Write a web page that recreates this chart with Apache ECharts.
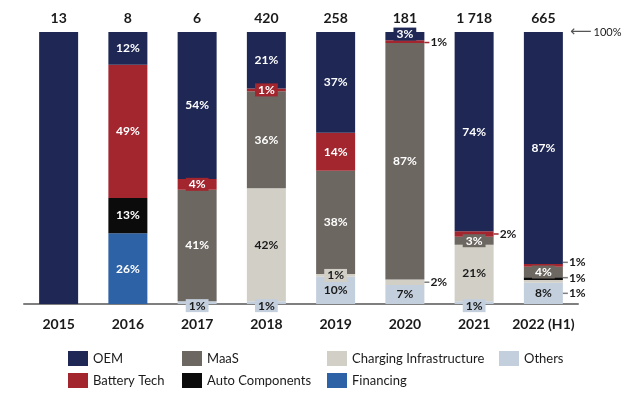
<!DOCTYPE html>
<html><head><meta charset="utf-8">
<script src="https://cdn.jsdelivr.net/npm/echarts@6/dist/echarts.min.js"></script>
<style>html,body{margin:0;padding:0;background:#fff}#c{width:627px;height:393px}</style>
</head><body><div id="c"></div>
<script>
const categories = ['2015','2016','2017','2018','2019','2020','2021','2022 (H1)'];
const totals = ['13','8','6','420','258','181','1 718','665'];
const oem       = [100,12,54,21,37, 3,74,87];
const battery   = [  0,49, 4, 1,14, 1, 2, 1];
const maas      = [  0, 0,41,36,38,87, 3, 4];
const autoComp  = [  0,13, 0, 0, 0, 0, 0, 1];
const charging  = [  0, 0, 0,42, 1, 2,21, 1];
const financing = [  0,26, 0, 0, 0, 0, 0, 0];
const others    = [  0, 0, 1, 1,10, 7, 1, 8];

const FONT = 'Lato';
// stacking order bottom -> top
const seriesDefs = [
  {name:'Others', data:others, color:'#c4cfdd', text:'#1a1a1a'},
  {name:'Financing', data:financing, color:'#2e62a6', text:'#ffffff'},
  {name:'Charging Infrastructure', data:charging, color:'#d2cfc7', text:'#1a1a1a'},
  {name:'Auto Components', data:autoComp, color:'#0b0b0b', text:'#ffffff'},
  {name:'MaaS', data:maas, color:'#6d6761', text:'#ffffff'},
  {name:'Battery Tech', data:battery, color:'#a3262f', text:'#ffffff'},
  {name:'OEM', data:oem, color:'#1f2755', text:'#ffffff'}
];

// label styling for small segments
const special = {
  '2017|Battery Tech': {type:'box'},
  '2017|Others': {type:'box', offset:[0,3]},
  '2018|Battery Tech': {type:'box'},
  '2018|Others': {type:'box', offset:[0,3]},
  '2019|Charging Infrastructure': {type:'box'},
  '2020|OEM': {type:'box', offset:[0,-2]},
  '2020|Battery Tech': {type:'right', line:'#a3262f', offset:[0,1]},
  '2020|Charging Infrastructure': {type:'right', line:'#7f7f7f', offset:[0,0]},
  '2021|Battery Tech': {type:'right', line:'#a3262f', offset:[0,0]},
  '2021|MaaS': {type:'box'},
  '2021|Others': {type:'box', offset:[0,3]},
  '2022 (H1)|Battery Tech': {type:'right', line:'#7f7f7f', offset:[0,-3]},
  '2022 (H1)|Auto Components': {type:'right', line:'#7f7f7f', offset:[0,-1]},
  '2022 (H1)|MaaS': {type:'box'},
  '2022 (H1)|Charging Infrastructure': {type:'right', line:'#7f7f7f', offset:[0,12]}
};

const sums = categories.map((c,i)=>seriesDefs.reduce((s,d)=>s+d.data[i],0));

function labelFor(def, i){
  const v = def.data[i];
  if (!v || v === 100) return {show:false};
  const base = {show:true, formatter: v + '%', color:def.text, fontSize:12, fontWeight:'bold', fontFamily:FONT};
  const sp = special[categories[i] + '|' + def.name];
  if (!sp) return Object.assign(base, {position:'inside'});
  if (sp.type === 'box') {
    return Object.assign(base, {position:'inside', backgroundColor:def.color, padding:[1,3,0,3], offset: sp.offset || [0,0]});
  }
  return {show:true, position:'right', distance:0, offset: sp.offset,
    formatter: '{d| }{t|' + v + '%}',
    rich: {
      d:{width:5, height:1.5, backgroundColor: sp.line, fontSize:1},
      t:{color:'#1a1a1a', fontSize:12, fontWeight:'bold', fontFamily:FONT, padding:[0,0,0,1]}
    }
  };
}

const series = seriesDefs.map(def => ({
  name: def.name, type:'bar', stack:'total', barWidth:39,
  itemStyle:{color:def.color},
  emphasis:{disabled:true},
  data: def.data.map((v,i)=>({value: v*100/sums[i], label: labelFor(def,i)}))
}));

const legendCommon = {orient:'vertical', top:346, itemWidth:20, itemHeight:15, itemGap:7, icon:'rect',
  selectedMode:false, textStyle:{fontSize:13, color:'#1a1a1a', fontFamily:FONT}};

const chart = echarts.init(document.getElementById('c'));
chart.setOption({
  animation:false,
  grid:{left:24, right:49, top:32, bottom:89, outerBoundsMode:'none'},
  legend:[
    Object.assign({left:63, data:['OEM','Battery Tech']}, legendCommon),
    Object.assign({left:177, data:['MaaS','Auto Components']}, legendCommon),
    Object.assign({left:322, data:['Charging Infrastructure','Financing']}, legendCommon),
    Object.assign({left:494, data:['Others']}, legendCommon)
  ],
  xAxis:[
    {type:'category', data:categories, position:'bottom',
     axisLine:{lineStyle:{color:'#7f7f7f', width:2}}, axisTick:{show:false},
     axisLabel:{interval:0, fontSize:14, fontWeight:'bold', color:'#1a1a1a', fontFamily:FONT, margin:13}},
    {type:'category', data:totals, position:'top',
     axisLine:{show:false}, axisTick:{show:false},
     axisLabel:{interval:0, fontSize:14, fontWeight:'bold', color:'#1a1a1a', fontFamily:FONT, margin:7}}
  ],
  yAxis:[
    {type:'value', min:0, max:100, show:false},
    {type:'value', min:0, max:100, interval:100, position:'right',
     axisLine:{show:false}, axisTick:{show:false}, splitLine:{show:false},
     axisLabel:{margin:-8, hideOverlap:false, overflow:'none', width:80,
       formatter: v => v === 100 ? '{a|⟵}{b|100%}' : '',
       rich:{a:{fontSize:15, color:'#555', fontFamily:'DejaVu Sans', padding:[0,2,0,0]},
             b:{fontSize:11, color:'#1a1a1a', fontFamily:FONT}}}}
  ],
  series: series
});
</script></body></html>
